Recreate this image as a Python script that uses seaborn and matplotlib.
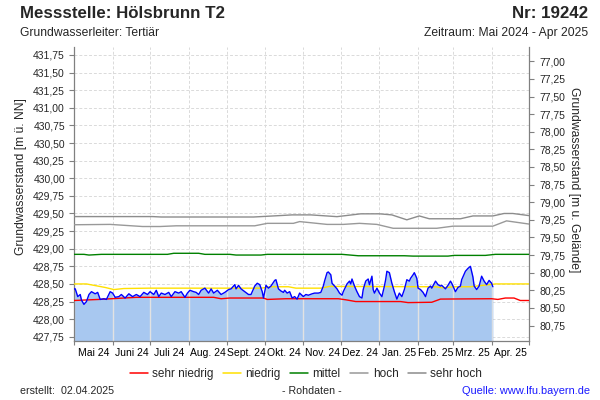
import numpy as np
import pandas as pd
import matplotlib
matplotlib.use("Agg")
import matplotlib.pyplot as plt
import matplotlib.dates as mdates
import seaborn as sns

# ---------------- data ----------------
start_date = "2024-05-01"
end_date = "2025-05-01"

month_labels = ["Mai 24", "Juni 24", "Juli 24", "Aug. 24", "Sept. 24", "Okt. 24",
                "Nov. 24", "Dez. 24", "Jan. 25", "Feb. 25", "Mrz. 25", "Apr. 25"]

# measured level (days since start_date, m ü. NN)
level_days = [0, 1, 3, 5, 6, 8, 10, 12, 14, 17, 19, 21, 24, 26, 29, 31, 33, 36, 38, 41,
              44, 47, 50, 53, 56, 59, 61, 64, 66, 68, 70, 73, 76, 78, 81, 84, 86, 89, 91, 93,
              96, 98, 100, 102, 105, 108, 110, 112, 115, 118, 121, 124, 126, 129, 130, 132, 134, 137, 140, 142,
              145, 147, 149, 151, 152, 154, 156, 158, 161, 162, 164, 166, 168, 169, 171, 173, 175, 177, 179, 181,
              184, 186, 188, 191, 193, 196, 198, 200, 201, 203, 204, 206, 207, 209, 211, 213, 215, 216, 219, 221,
              222, 223, 225, 227, 229, 231, 232, 234, 236, 237, 239, 240, 241, 243, 245, 247, 249, 250, 251, 253,
              255, 257, 259, 261, 263, 265, 267, 269, 270, 272, 273, 275, 276, 278, 280, 282, 284, 286, 287, 290,
              292, 294, 295, 298, 300, 302, 303, 306, 308, 310, 311, 314, 316, 318, 320, 321, 323, 325, 327, 329,
              331, 333, 335, 336]
level_vals = [428.43, 428.43, 428.32, 428.35, 428.27, 428.21, 428.25, 428.35, 428.39, 428.36,
              428.38, 428.28, 428.29, 428.28, 428.39, 428.37, 428.31, 428.32, 428.35, 428.30,
              428.36, 428.32, 428.35, 428.32, 428.38, 428.35, 428.39, 428.35, 428.41, 428.32,
              428.37, 428.35, 428.38, 428.32, 428.39, 428.37, 428.39, 428.31, 428.37, 428.41,
              428.39, 428.38, 428.35, 428.41, 428.44, 428.37, 428.43, 428.37, 428.41, 428.35,
              428.38, 428.42, 428.43, 428.49, 428.43, 428.48, 428.43, 428.39, 428.35, 428.35,
              428.47, 428.51, 428.49, 428.39, 428.30, 428.48, 428.44, 428.47, 428.55, 428.56,
              428.43, 428.40, 428.38, 428.41, 428.37, 428.39, 428.30, 428.32, 428.285, 428.37,
              428.32, 428.35, 428.34, 428.36, 428.37, 428.37, 428.38, 428.47, 428.54, 428.66,
              428.67, 428.63, 428.51, 428.47, 428.43, 428.37, 428.34, 428.39, 428.50, 428.54,
              428.50, 428.57, 428.47, 428.39, 428.32, 428.30, 428.42, 428.54, 428.57, 428.49,
              428.61, 428.42, 428.37, 428.44, 428.37, 428.32, 428.47, 428.56, 428.68, 428.66,
              428.51, 428.39, 428.285, 428.37, 428.32, 428.42, 428.56, 428.54, 428.58, 428.63,
              428.66, 428.58, 428.44, 428.42, 428.38, 428.32, 428.44, 428.47, 428.44, 428.54,
              428.49, 428.47, 428.48, 428.43, 428.48, 428.54, 428.51, 428.39, 428.45, 428.47,
              428.56, 428.68, 428.72, 428.75, 428.60, 428.47, 428.42, 428.47, 428.61, 428.54,
              428.49, 428.55, 428.51, 428.46]

# statistical reference levels
red_days = [0, 20, 35, 50, 112, 118, 125, 152, 155, 170, 212, 218, 226, 262, 268, 287, 294, 335, 340, 346, 353, 358, 365]
red_vals = [428.265, 428.28, 428.295, 428.31, 428.31, 428.29, 428.30, 428.30, 428.28, 428.29, 428.29, 428.275,
            428.25, 428.25, 428.235, 428.24, 428.285, 428.29, 428.28, 428.30, 428.30, 428.265, 428.265]
yellow_days = [0, 10, 25, 32, 40, 60, 150, 158, 172, 178, 198, 205, 290, 296, 305, 318, 328, 338, 365]
yellow_vals = [428.50, 428.50, 428.45, 428.42, 428.435, 428.44, 428.44, 428.46, 428.46, 428.44, 428.44,
               428.465, 428.46, 428.445, 428.46, 428.46, 428.48, 428.50, 428.50]
green_days = [0, 8, 12, 22, 75, 80, 100, 105, 125, 130, 150, 155, 215, 228, 265, 272, 300, 305, 330, 338, 365]
green_vals = [428.92, 428.92, 428.91, 428.92, 428.92, 428.935, 428.935, 428.92, 428.92, 428.91, 428.91,
              428.92, 428.92, 428.90, 428.90, 428.895, 428.895, 428.905, 428.905, 428.92, 428.92]
hoch_days = [0, 29, 55, 69, 82, 145, 155, 176, 181, 203, 216, 229, 243, 256, 291, 304, 336, 347, 365]
hoch_vals = [429.34, 429.345, 429.315, 429.315, 429.325, 429.325, 429.36, 429.36, 429.385, 429.345,
             429.345, 429.36, 429.345, 429.29, 429.29, 429.32, 429.32, 429.395, 429.35]
sehrhoch_days = [0, 63, 70, 144, 165, 175, 190, 211, 230, 245, 255, 267, 277, 285, 310, 320, 336, 345, 352, 365]
sehrhoch_vals = [429.456, 429.456, 429.45, 429.45, 429.47, 429.48, 429.48, 429.455, 429.495, 429.495,
                 429.48, 429.41, 429.465, 429.425, 429.425, 429.465, 429.465, 429.50, 429.50, 429.47]

ground_level = 508.66   # m ü. NN (for right axis: depth below ground)
left_ticks = [427.75 + 0.25 * i for i in range(17)]
right_ticks = [77.00 + 0.25 * i for i in range(16)]

# ---------------- style ----------------
sns.set_theme(style="white")
plt.rcParams["font.family"] = ["Liberation Sans", "DejaVu Sans"]

t0 = pd.Timestamp(start_date)
def to_dates(days):
    return t0 + pd.to_timedelta(days, unit="D")

fig = plt.figure(figsize=(6, 4), dpi=100)
ax = fig.add_axes([74 / 600, 1 - 341 / 400, 455 / 600, 294 / 400])

ymin, ymax = 427.69, 431.863
ax.set_ylim(ymin, ymax)
ax.set_xlim(pd.Timestamp(start_date), pd.Timestamp(end_date))

lvl_dates = to_dates(level_days)
fill = ax.fill_between(lvl_dates, level_vals, ymin - 1, color="#a8c8f0", lw=0, zorder=1)

# month boundaries
month_starts = pd.date_range(start_date, periods=13, freq="MS")
mids = [month_starts[i] + (month_starts[i + 1] - month_starts[i]) / 2 for i in range(12)]

# light solid month separators inside the filled area (clipped to the fill)
sep = ax.vlines(month_starts, ymin - 1, ymax + 1, colors="#e2e2e2", lw=1.0, zorder=1.5)
sep.set_clip_path(fill.get_paths()[0], ax.transData)

series = [
    (red_days, red_vals, "#ff0000", "sehr niedrig"),
    (yellow_days, yellow_vals, "#ffe000", "niedrig"),
    (green_days, green_vals, "#008000", "mittel"),
    (hoch_days, hoch_vals, "#999999", "hoch"),
    (sehrhoch_days, sehrhoch_vals, "#8c8c8c", "sehr hoch"),
]
for d, v, c, lab in series:
    sns.lineplot(x=to_dates(d), y=v, ax=ax, color=c, lw=1.0, label=lab, zorder=3)

sns.lineplot(x=lvl_dates, y=level_vals, ax=ax, color="#0000ff", lw=1.0, zorder=4)
if ax.get_legend() is not None:
    ax.get_legend().remove()

# x axis: month boundaries (grid + ticks), labels mid-month
ax.set_xticks(month_starts)
ax.set_xticklabels([])
ax.set_xticks(mids, minor=True)
ax.set_xticklabels(month_labels, minor=True)
ax.tick_params(axis="x", which="major", length=3, width=0.8, color="#808080", direction="out", bottom=True)
ax.tick_params(axis="x", which="minor", length=0, pad=5, labelsize=7.5, colors="black")
ax.set_xlabel("")

# y axis
ax.set_yticks(left_ticks)
ax.set_yticklabels([f"{t:.2f}".replace(".", ",") for t in left_ticks])
ax.tick_params(axis="y", length=3.5, width=0.8, color="#808080", direction="out", left=True, pad=3, labelsize=7.5)
ax.set_ylabel("Grundwasserstand [m ü. NN]", fontsize=8.7)
ax.yaxis.set_label_coords(-0.103, 0.56)

ax.grid(True, which="major", axis="both", color="#dadada", lw=0.7, ls=(0, (3, 2)))
ax.set_axisbelow(True)

for s in ["left", "right", "bottom"]:
    ax.spines[s].set_color("#808080")
    ax.spines[s].set_linewidth(0.9)
ax.spines["top"].set_visible(False)

# right axis: depth below ground
ax2 = ax.twinx()
ax2.set_ylim(ground_level - ymin, ground_level - ymax)
ax2.set_yticks(right_ticks)
ax2.set_yticklabels([f"{t:.2f}".replace(".", ",") for t in right_ticks])
ax2.tick_params(axis="y", length=3.5, width=0.8, color="#808080", direction="out", right=True, pad=4, labelsize=7.5)
ax2.set_ylabel("Grundwasserstand [m u. Gelände]", fontsize=8.7, rotation=270, labelpad=12)
ax2.yaxis.set_label_coords(1.113, 0.55)
ax2.grid(False)
for s in ax2.spines.values():
    s.set_visible(False)

# legend
handles = [plt.Line2D([], [], color=c, lw=1.1) for _, _, c, _ in series]
labels = [lab for _, _, _, lab in series]
fig.legend(handles, labels, loc="center", bbox_to_anchor=(0.51, 1 - 374 / 400), ncol=5,
           frameon=False, fontsize=8.5, handlelength=1.5, handletextpad=0.4, columnspacing=0.8)

# header/footer texts
fig.text(20 / 600, 1 - 14 / 400, "Messstelle: Hölsbrunn T2", fontsize=12.2, fontweight="bold", va="center", ha="left")
fig.text(588 / 600, 1 - 14 / 400, "Nr: 19242", fontsize=12.2, fontweight="bold", va="center", ha="right")
fig.text(20 / 600, 1 - 33 / 400, "Grundwasserleiter: Tertiär", fontsize=8.7, va="center", ha="left")
fig.text(588 / 600, 1 - 33 / 400, "Zeitraum: Mai 2024 - Apr 2025", fontsize=8.7, va="center", ha="right")
fig.text(20 / 600, 1 - 391 / 400, "erstellt:  02.04.2025", fontsize=7.7, va="center", ha="left")
fig.text(312 / 600, 1 - 391 / 400, "- Rohdaten -", fontsize=7.7, va="center", ha="center")
fig.text(590 / 600, 1 - 391 / 400, "Quelle: www.lfu.bayern.de", fontsize=7.9, va="center", ha="right", color="#1a1aff")

fig.savefig("out.png", dpi=100)
